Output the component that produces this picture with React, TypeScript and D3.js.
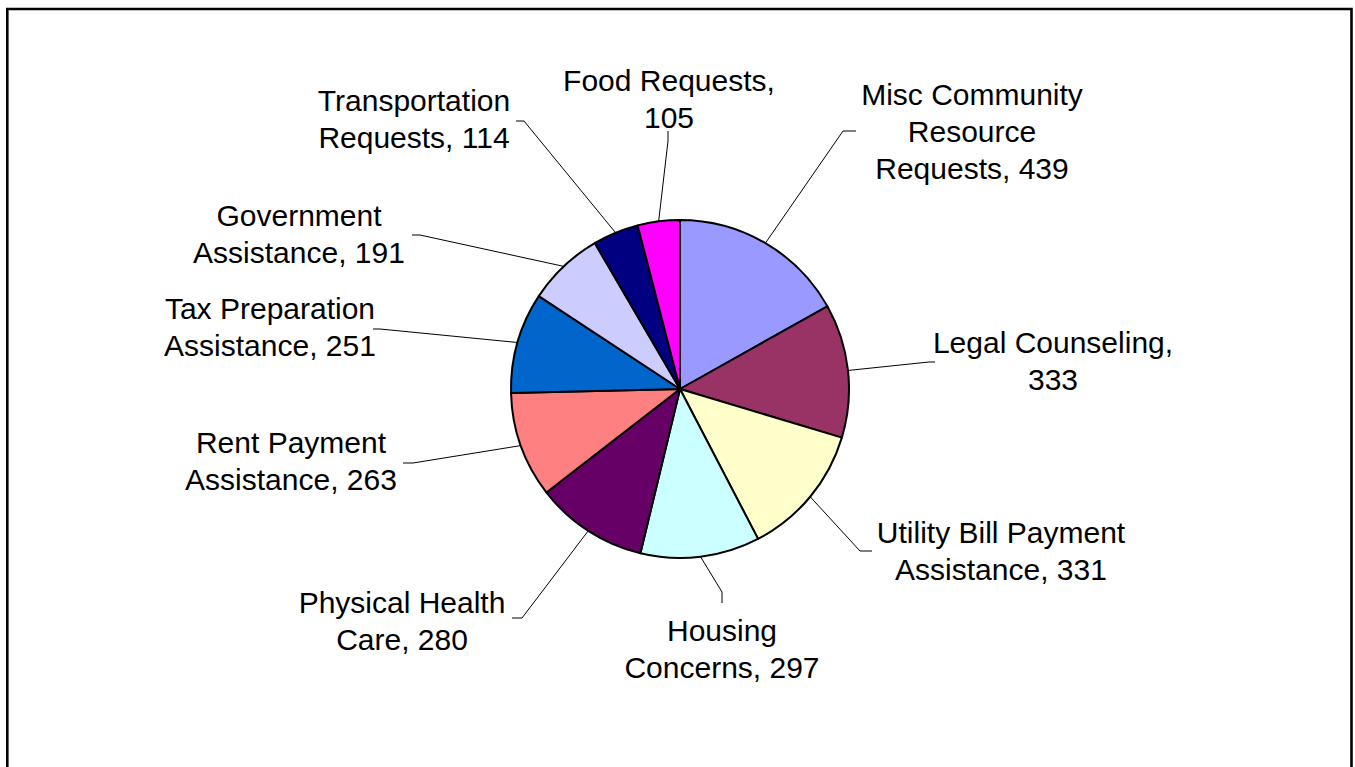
import React from "react";
import * as d3 from "d3";

// ---- data ----
const categories: string[][] = [
  ["Misc Community", "Resource", "Requests, 439"],
  ["Legal Counseling,", "333"],
  ["Utility Bill Payment", "Assistance, 331"],
  ["Housing", "Concerns, 297"],
  ["Physical Health", "Care, 280"],
  ["Rent Payment", "Assistance, 263"],
  ["Tax Preparation", "Assistance, 251"],
  ["Government", "Assistance, 191"],
  ["Transportation", "Requests, 114"],
  ["Food Requests,", "105"],
];
const values: number[] = [439, 333, 331, 297, 280, 263, 251, 191, 114, 105];
const colors: string[] = [
  "#9999FF", "#993366", "#FFFFCC", "#CCFFFF", "#660066",
  "#FF8080", "#0066CC", "#CCCCFF", "#000080", "#FF00FF",
];

// ---- layout (relative to pie centre) ----
const W = 1355;
const H = 767;
const CX = 680;
const CY = 389;
const R = 169;
const FONT = 30;
const LINE_H = 37;

// text: centre x, first baseline; leader: end point and tick vector (elbow = end + tick)
const labelLayout = [
  { tx: 292, ty: -284, ex: 176, ey: -258, kx: -13, ky: 0 },
  { tx: 373, ty: -36, ex: 255, ey: -27, kx: -6, ky: 0 },
  { tx: 321, ty: 154, ex: 192, ey: 162, kx: -12, ky: 0 },
  { tx: 42, ty: 252, ex: 42, ey: 214, kx: 0, ky: -11 },
  { tx: -278, ty: 224, ex: -168, ey: 229, kx: 10, ky: 0 },
  { tx: -389, ty: 64, ex: -277, ey: 74, kx: 10, ky: 0 },
  { tx: -410, ty: -70, ex: -307, ey: -60, kx: 7, ky: 0 },
  { tx: -381, ty: -163, ex: -268, ey: -154, kx: 8, ky: 0 },
  { tx: -266, ty: -278, ex: -164, ey: -268, kx: 8, ky: 0 },
  { tx: -11, ty: -298, ex: -12, ey: -258, kx: 0, ky: 10 },
];

export default function App() {
  const pie = d3
    .pie<number>()
    .sort(null)
    .value((d) => d)
    .startAngle(0)
    .endAngle(2 * Math.PI);
  const arcs = pie(values);
  const arc = d3.arc<d3.PieArcDatum<number>>().innerRadius(0).outerRadius(R);
  const edgeArc = d3.arc<d3.PieArcDatum<number>>().innerRadius(R).outerRadius(R);

  return (
    <svg
      width={W}
      height={H}
      style={{ position: "absolute", left: 0, top: 0, background: "#fff" }}
      fontFamily="'Liberation Sans', Arial, sans-serif"
    >
      <rect x={0} y={0} width={W} height={H} fill="#fff" />
      <path
        d={`M7.3,${H + 5} V9 H1351.5 V${H + 5}`}
        fill="none"
        stroke="#000"
        strokeWidth={2.6}
      />
      <g transform={`translate(${CX},${CY})`}>
        {arcs.map((a, i) => (
          <path
            key={i}
            d={arc(a) || ""}
            fill={colors[i]}
            stroke="#000"
            strokeWidth={2}
            strokeLinejoin="round"
          />
        ))}
        {arcs.map((a, i) => {
          const [sx, sy] = edgeArc.centroid(a);
          const L = labelLayout[i];
          const path = d3.path();
          path.moveTo(sx, sy);
          path.lineTo(L.ex + L.kx, L.ey + L.ky);
          path.lineTo(L.ex, L.ey);
          return (
            <path
              key={"l" + i}
              d={path.toString()}
              fill="none"
              stroke="#000"
              strokeWidth={1}
            />
          );
        })}
        {categories.map((lines, i) => {
          const L = labelLayout[i];
          return (
            <text
              key={"t" + i}
              x={L.tx}
              y={L.ty}
              fontSize={FONT}
              textAnchor="middle"
              fill="#000"
            >
              {lines.map((ln, j) => (
                <tspan key={j} x={L.tx} y={L.ty + j * LINE_H}>
                  {ln}
                </tspan>
              ))}
            </text>
          );
        })}
      </g>
    </svg>
  );
}
